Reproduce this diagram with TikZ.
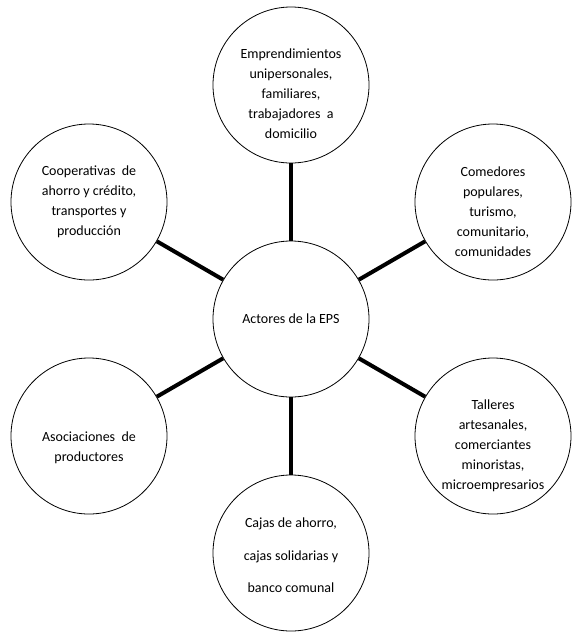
\documentclass[tikz,border=0pt]{standalone}
\usepackage{fontspec}
\setmainfont{Carlito}
\usepackage{xcolor}
\usepackage{tikz}
\usetikzlibrary{positioning}
\tikzset{
  actornode/.style={circle, draw=black, line width=0.8pt, fill=white, minimum size=156pt, inner sep=0pt},
  actortext/.style={align=center, inner sep=0pt, font=\fontsize{14}{20}\selectfont},
  linkline/.style={black, line width=4pt}
}

\begin{document}
\begin{tikzpicture}[x=1pt,y=-1pt]
  \useasboundingbox (0,0) rectangle (586,641);
  \node[actornode, label={[actortext]center:{Actores de la EPS}}] (centro) at (291,319) {};
  \node[actornode, label={[actortext,yshift=-9pt]center:{Emprendimientos\\unipersonales,\\familiares,\\trabajadores~~a\\domicilio}}] (emprend) at (291,85) {};
  \node[actornode, label={[actortext]center:{Cooperativas~~de\\ahorro y crédito,\\transportes y\\producción}}] (coop) at (89,202) {};
  \node[actornode, label={[actortext,yshift=-10pt]center:{Comedores\\populares,\\turismo,\\comunitario,\\comunidades}}] (comed) at (493,202) {};
  \node[actornode, label={[actortext,yshift=-12pt]center:{Asociaciones~~de\\productores}}] (asoc) at (89,436) {};
  \node[actornode, label={[actortext,yshift=-10pt]center:{Talleres\\artesanales,\\comerciantes\\minoristas,\\microempresarios}}] (taller) at (493,436) {};
  \node[actornode, label={[actortext,yshift=-2pt]center:{Cajas de ahorro,\\[13pt]cajas solidarias y\\[12pt]banco comunal}}] (cajas) at (291,553) {};
  \draw[linkline] (centro) -- (emprend);
  \draw[linkline] (centro) -- (coop);
  \draw[linkline] (centro) -- (comed);
  \draw[linkline] (centro) -- (asoc);
  \draw[linkline] (centro) -- (taller);
  \draw[linkline] (centro) -- (cajas);
\end{tikzpicture}
\end{document}
